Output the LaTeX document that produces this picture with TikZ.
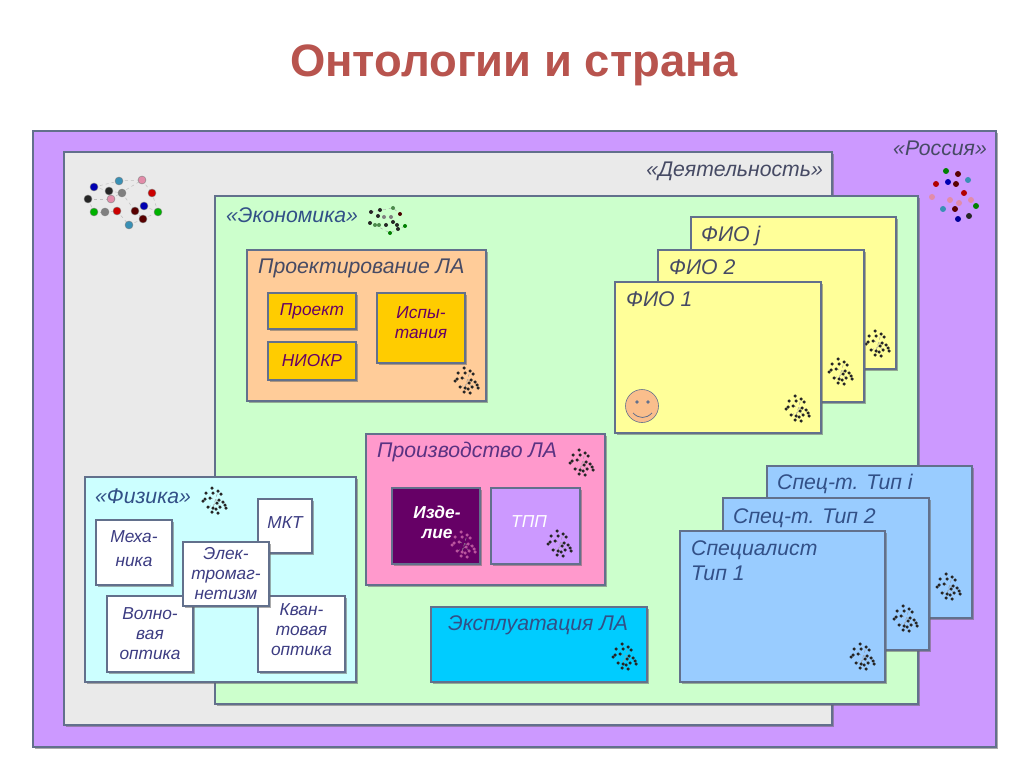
\documentclass[tikz,border=0pt]{standalone}
\usepackage{fontspec}
\setmainfont{Liberation Sans}
\usepackage{xcolor}
\usetikzlibrary{positioning, shadows}
\definecolor{TitleRed}{RGB}{184,84,78}
\definecolor{FrameBlue}{RGB}{98,112,140}
\definecolor{InkBlue}{RGB}{60,60,130}
\definecolor{InkGray}{RGB}{70,74,100}
\definecolor{InkSteel}{RGB}{50,80,135}
\definecolor{InkPlum}{RGB}{90,50,130}
\definecolor{RussiaLilac}{RGB}{204,153,255}
\definecolor{ActivityGray}{RGB}{234,234,234}
\definecolor{EconomyGreen}{RGB}{204,255,204}
\definecolor{DesignOrange}{RGB}{255,204,153}
\definecolor{TaskYellow}{RGB}{255,204,0}
\definecolor{PhysicsCyan}{RGB}{204,255,255}
\definecolor{MakePink}{RGB}{255,153,204}
\definecolor{ItemPurple}{RGB}{102,0,102}
\definecolor{UseBlue}{RGB}{0,204,255}
\definecolor{PersonYellow}{RGB}{255,255,153}
\definecolor{ExpertBlue}{RGB}{153,204,255}
\definecolor{SmileSkin}{RGB}{250,190,140}

\tikzset{
    panel/.style={draw=FrameBlue, line width=1.1pt, anchor=north west, inner sep=0pt, outer sep=0pt,
        align=center, drop shadow={shadow xshift=2.2pt, shadow yshift=-2.2pt, opacity=.55, fill=black!60}},
    caption/.style={anchor=west, inner sep=0pt, text=InkSteel, font=\fontsize{21.2}{25}\selectfont\itshape},
    smalltext/.style={text=InkBlue, font=\fontsize{17.3}{20}\selectfont\itshape},
}

% cluster of small dots, #1 = centre, #2 = dot colour
\newcommand{\dotcloud}[2]{
    \begin{scope}[shift={#1}]
        \draw[black!40, line width=.5pt, dashed] (-7,6) -- (2,2) -- (5,6) (-5,-3) -- (8,1) (-2,7) -- (3,-10);
        \foreach \dx/\dy in {-3/-13,3/-10,-9/-8,-2/-8,6/-7,-10/-2,-5/-3,2/2,8/1,10/4,-7/6,-2/7,5/6,-3/11,3/12,11/7,-12/0,4/-1,1/8}
            \fill[#2] (\dx,\dy) circle (1.75);
    \end{scope}
}
\newcommand{\dotnet}[1]{
    \begin{scope}[shift={#1}]
        \draw[black!35, line width=.4pt, dashed] (-17,-8) -- (5,-12) -- (12,-6) (-13,5) -- (2,13) -- (17,6);
        \foreach \dx/\dy/\dc in {-17/-8/black!85,-8/-10/black!85,5/-12/green!35!black!70,-10/-4/black!85,-4/-3/gray,3/-3/black!50,12/-6/red!30!black,
            -18/3/black!85,-13/5/green!35!black!70,-9/5/green!35!black!70,-2/5/black!85,5/2/black!85,9/5/black!85,17/6/green!50!black,2/13/green!50!black,10/9/black!85}
            \fill[\dc] (\dx,\dy) circle (2);
    \end{scope}
}

\begin{document}
\begin{tikzpicture}[x=1pt, y=-1pt]
    \useasboundingbox (0,0) rectangle (1024,767);
    \fill[white] (0,0) rectangle (1024,767);

    \node[text=TitleRed, font=\fontsize{45.4}{54}\selectfont\bfseries] (title) at (514,65) {Онтологии и страна};

    \node[panel, fill=RussiaLilac, minimum width=963pt, minimum height=616pt] (russia) at (33,131) {};
    \node[panel, fill=ActivityGray, minimum width=768pt, minimum height=573pt] (activity) at (64,152) {};
    \node[panel, fill=EconomyGreen, minimum width=703pt, minimum height=508pt] (economy) at (215,196) {};

    \node[caption, text=InkGray, anchor=east] (russialabel) at (987,148) {«Россия»};
    \node[caption, text=InkGray, anchor=east] (activitylabel) at (823,171) {«Деятельность»};
    \node[caption] (economylabel) at (226,215) {«Экономика»};

    % design
    \node[panel, fill=DesignOrange, minimum width=239pt, minimum height=151pt] (design) at (247,250) {};
    \node[caption, text=InkGray] (designlabel) at (258,268) {Проектирование ЛА};
    \node[panel, fill=TaskYellow, minimum width=88pt, minimum height=36pt, smalltext, text=ItemPurple] (project) at (268,293) {Проект};
    \node[panel, fill=TaskYellow, minimum width=88pt, minimum height=38pt, smalltext, text=ItemPurple] (research) at (268,342) {НИОКР};
    \node[panel, fill=TaskYellow, minimum width=88pt, minimum height=70pt, smalltext, text=ItemPurple, text depth=10pt] (trials) at (377,293) {Испы-\\тания};

    % physics
    \node[panel, fill=PhysicsCyan, minimum width=271pt, minimum height=205pt] (physics) at (85,477) {};
    \node[caption] (physicslabel) at (95,496) {«Физика»};
    \node[panel, fill=white, minimum width=76pt, minimum height=65pt, smalltext, text depth=7pt] (mechanics) at (96,520) {Меха-\\[4pt]ника};
    \node[panel, fill=white, minimum width=54pt, minimum height=54pt, smalltext, text depth=6pt] (kinetics) at (258,499) {МКТ};
    \node[panel, fill=white, minimum width=86pt, minimum height=76pt, smalltext] (waves) at (107,596) {Волно-\\вая\\оптика};
    \node[panel, fill=white, minimum width=87pt, minimum height=76pt, smalltext, text depth=9pt] (quantum) at (258,596) {Кван-\\товая\\оптика};
    \node[panel, fill=white, minimum width=86pt, minimum height=64pt, smalltext] (electro) at (183,542) {Элек-\\тромаг-\\нетизм};

    % production
    \node[panel, fill=MakePink, minimum width=239pt, minimum height=151pt] (production) at (366,434) {};
    \node[caption, text=InkPlum] (productionlabel) at (377,452) {Производство ЛА};
    \node[panel, fill=ItemPurple, minimum width=88pt, minimum height=76pt] (product) at (392,488) {};
    \node[smalltext, text=white, align=center, inner sep=0pt, font=\fontsize{17.3}{20}\selectfont\itshape\bfseries] (productlabel) at (437,522) {Изде-\\лие};
    \node[panel, fill=RussiaLilac, minimum width=89pt, minimum height=76pt] (preparation) at (491,488) {};
    \node[smalltext, text=white, inner sep=0pt] (preparationlabel) at (529,522) {ТПП};

    % operation
    \node[panel, fill=UseBlue, minimum width=216pt, minimum height=75pt] (operation) at (431,607) {};
    \node[caption] (operationlabel) at (448,625) {Эксплуатация ЛА};

    % persons
    \node[panel, fill=PersonYellow, minimum width=205pt, minimum height=152pt] (personj) at (691,217) {};
    \node[caption, text=InkGray] (personjlabel) at (701,236) {ФИО \textit{j}};
    \dotcloud{(878,344)}{black!85}
    \node[panel, fill=PersonYellow, minimum width=206pt, minimum height=152pt] (persontwo) at (658,250) {};
    \node[caption, text=InkGray] (persontwolabel) at (669,267) {ФИО 2};
    \dotcloud{(841,372)}{black!85}
    \node[panel, fill=PersonYellow, minimum width=206pt, minimum height=151pt] (personone) at (615,282) {};
    \node[caption, text=InkGray] (persononelabel) at (626,299) {ФИО 1};
    \dotcloud{(798,409)}{black!85}
    \node[circle, draw=FrameBlue, fill=SmileSkin, line width=.6pt, minimum size=33pt, inner sep=0pt] (smiley) at (642,406) {};
    \fill[FrameBlue] (637,402) circle (1.8) (648,402) circle (1.8);
    \draw[FrameBlue, line width=.8pt] (633,413) .. controls (639,419) and (646,419) .. (652,413);

    % experts
    \node[panel, fill=ExpertBlue, minimum width=205pt, minimum height=152pt] (experti) at (767,466) {};
    \node[caption] (expertilabel) at (777,484) {Спец-т. Тип \textit{i}};
    \dotcloud{(949,587)}{black!85}
    \node[panel, fill=ExpertBlue, minimum width=206pt, minimum height=152pt] (experttwo) at (723,498) {};
    \node[caption] (experttwolabel) at (733,518) {Спец-т. Тип 2};
    \dotcloud{(906,619)}{black!85}
    \node[panel, fill=ExpertBlue, minimum width=205pt, minimum height=151pt] (expertone) at (680,531) {};
    \node[caption, anchor=north west, align=left] (expertonelabel) at (691,540) {Специалист\\Тип 1};
    \dotcloud{(863,657)}{black!85}

    % ontology marks
    \dotcloud{(467,381)}{black!85}
    \dotcloud{(215,501)}{black!85}
    \dotcloud{(582,463)}{black!85}
    \dotcloud{(560,544)}{black!85}
    \dotcloud{(464,545)}{MakePink!55!ItemPurple}
    \dotcloud{(625,657)}{black!85}
    \dotnet{(388,220)}

    % large networks
    \foreach \nx/\ny/\nc [count=\ni] in {94/187/blue!70!black,119/181/cyan!70!black,142/180/purple!45!white,
        152/193/red!80!black,109/191/black!85,122/193/gray,111/199/purple!45!white,88/199/black!85,
        94/212/green!70!black,105/212/gray,117/211/red!80!black,135/211/red!35!black,
        144/206/blue!70!black,158/212/green!70!black,129/225/cyan!70!black,143/219/red!35!black}
        \coordinate (net\ni) at (\nx,\ny);
    \foreach \na/\nb in {1/2,2/3,3/4,1/5,5/6,8/7,7/3,9/10,10/11,11/15,15/16,16/14,14/4,12/16,8/9,13/14,6/12}
        \draw[black!25, line width=.5pt, dashed] (net\na) -- (net\nb);
    \foreach \nx/\ny/\nc in {94/187/blue!70!black,119/181/cyan!70!black,142/180/purple!45!white,
        152/193/red!80!black,109/191/black!85,122/193/gray,111/199/purple!45!white,88/199/black!85,
        94/212/green!70!black,105/212/gray,117/211/red!80!black,135/211/red!35!black,
        144/206/blue!70!black,158/212/green!70!black,129/225/cyan!70!black,143/219/red!35!black}
        \fill[\nc, draw=black!50, line width=.4pt] (\nx,\ny) circle (4);

    \foreach \nx/\ny/\nc in {946/171/green!50!black,958/174/red!35!black,968/180/cyan!70!black,948/182/blue!70!black,
        956/184/red!35!black,936/184/red!70!black,964/193/red!70!black,932/197/purple!45!white,950/200/purple!45!white,
        959/203/purple!45!white,971/200/purple!45!white,976/206/green!50!black,943/209/cyan!70!black,955/209/red!35!black,
        958/219/blue!60!black,969/216/black!85}
        \fill[\nc] (\nx,\ny) circle (3);
\end{tikzpicture}
\end{document}
